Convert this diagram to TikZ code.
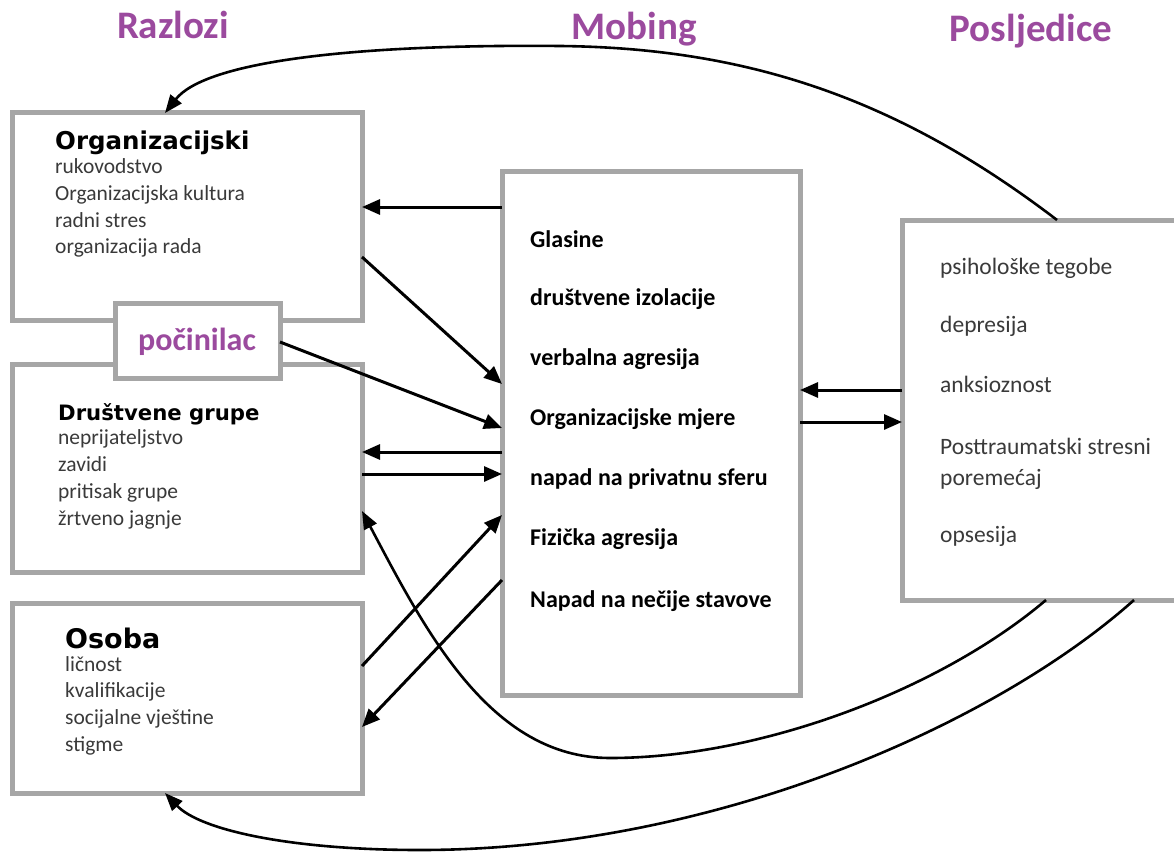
\documentclass[tikz,border=0pt]{standalone}
\usepackage{fontspec}
\setmainfont{Carlito}
\newfontfamily\headfont{DejaVu Sans}
\usetikzlibrary{arrows.meta,calc}
\definecolor{boxgray}{HTML}{A6A6A6}
\definecolor{purp}{HTML}{9B4A9E}
\definecolor{txtgray}{HTML}{3A3A3A}
\begin{document}
\begin{tikzpicture}[x=1pt,y=-1pt,
  box/.style={draw=boxgray,line width=5pt,fill=white,inner sep=0pt,outer sep=0pt,anchor=north west},
  arr/.style={line width=3pt,-{Triangle[length=18pt,width=15pt]}},
  curv/.style={line width=2.6pt,-{Triangle[length=18pt,width=14pt]}},
  sect/.style={font=\fontsize{39}{39}\selectfont\bfseries,text=purp,anchor=base,inner sep=0pt},
  ttl/.style={font=\headfont\fontsize{24.5}{24.5}\selectfont\bfseries,anchor=base west,inner sep=0pt},
  itm/.style={font=\fontsize{21.5}{21.5}\selectfont,text=txtgray,anchor=base west,inner sep=0pt},
  mitm/.style={font=\fontsize{24}{24}\selectfont\bfseries,anchor=base west,inner sep=0pt},
  pitm/.style={font=\fontsize{23.5}{23.5}\selectfont,text=txtgray,anchor=base west,inner sep=0pt}]
\useasboundingbox (0,0) rectangle (1174,853);
\fill[white] (0,0) rectangle (1174,853);
\begin{scope}
\clip (0,0) rectangle (1174,853);
% headers
\node[sect] (h1) at (173,39) {Razlozi};
\node[sect] (h2) at (634,40) {Mobing};
\node[sect] (h3) at (1031,42) {Posljedice};
% boxes
\node[box,minimum width=350pt,minimum height=207pt] (org) at (12,113) {};
\node[box,minimum width=350pt,minimum height=208pt] (drus) at (12,364) {};
\node[box,minimum width=165pt,minimum height=75pt] (poc) at (115,303) {};
\node[box,minimum width=350pt,minimum height=190pt] (oso) at (12,603) {};
\node[box,minimum width=298pt,minimum height=523pt] (mob) at (502,172) {};
\node[box,minimum width=300pt,minimum height=380pt] (post) at (902,220) {};
% texts
\node[sect,font=\fontsize{32}{32}\selectfont\bfseries] (poct) at (197,350) {počinilac};
\node[ttl] (orgt) at (55,150) {Organizacijski};
\foreach \t [count=\i] in {rukovodstvo,Organizacijska kultura,radni stres,organizacija rada}
  \node[itm] (org\i) at (55,{174+26.6*(\i-1)}) {\t};
\node[ttl,font=\headfont\fontsize{21.2}{21.2}\selectfont\bfseries] (drust) at (58,420) {Društvene grupe};
\foreach \t [count=\i] in {neprijateljstvo,zavidi,pritisak grupe,žrtveno jagnje}
  \node[itm] (drus\i) at (58,{444+27*(\i-1)}) {\t};
\node[ttl,font=\headfont\fontsize{27}{27}\selectfont\bfseries] (osot) at (65,648) {Osoba};
\foreach \t [count=\i] in {ličnost,kvalifikacije,socijalne vještine,stigme}
  \node[itm] (oso\i) at (65,{671+26.7*(\i-1)}) {\t};
\foreach \t/\yy [count=\i] in {Glasine/247,društvene izolacije/305,verbalna agresija/365,Organizacijske mjere/425,napad na privatnu sferu/485,Fizička agresija/545,Napad na nečije stavove/607}
  \node[mitm] (mob\i) at (530,\yy) {\t};
\foreach \t/\yy [count=\i] in {psihološke tegobe/274,depresija/332,anksioznost/392,Posttraumatski stresni/454,poremećaj/485,opsesija/542}
  \node[pitm] (post\i) at (940,\yy) {\t};
% straight connectors
\draw[arr] (mob.west |- 0,207) -- (org.east |- 0,207);
\draw[arr] (org.east |- 0,257) -- (mob.west |- 0,384);
\draw[arr] (poc.east |- 0,342) -- (mob.west |- 0,428);
\draw[arr] (mob.west |- 0,452) -- (drus.east |- 0,452);
\draw[arr] (drus.east |- 0,474) -- (mob.west |- 0,474);
\draw[arr] (oso.east |- 0,666) -- (mob.west |- 0,515);
\draw[arr] (mob.west |- 0,580) -- (oso.east |- 0,727);
\draw[arr] (post.west |- 0,390) -- (mob.east |- 0,390);
\draw[arr] (mob.east |- 0,422) -- (post.west |- 0,422);
% curves
\coordinate (ct) at (560,46);
\coordinate (c1) at (610,758);
\coordinate (c2) at (420,850);
\draw[curv] (post.north -| 1057,0) .. controls (900,100) and (750,48) .. (ct)
  .. controls (350,44) and (205,62) .. (org.north -| 165,0);
\draw[curv] (post.south -| 1046,0) .. controls (940,690) and (760,758) .. (c1)
  .. controls (490,758) and (425,630) .. (drus.east |- 0,511);
\draw[curv] (post.south -| 1134,0) .. controls (1000,720) and (720,850) .. (c2)
  .. controls (290,850) and (200,830) .. (oso.south -| 165,0);
\end{scope}
\end{tikzpicture}
\end{document}
